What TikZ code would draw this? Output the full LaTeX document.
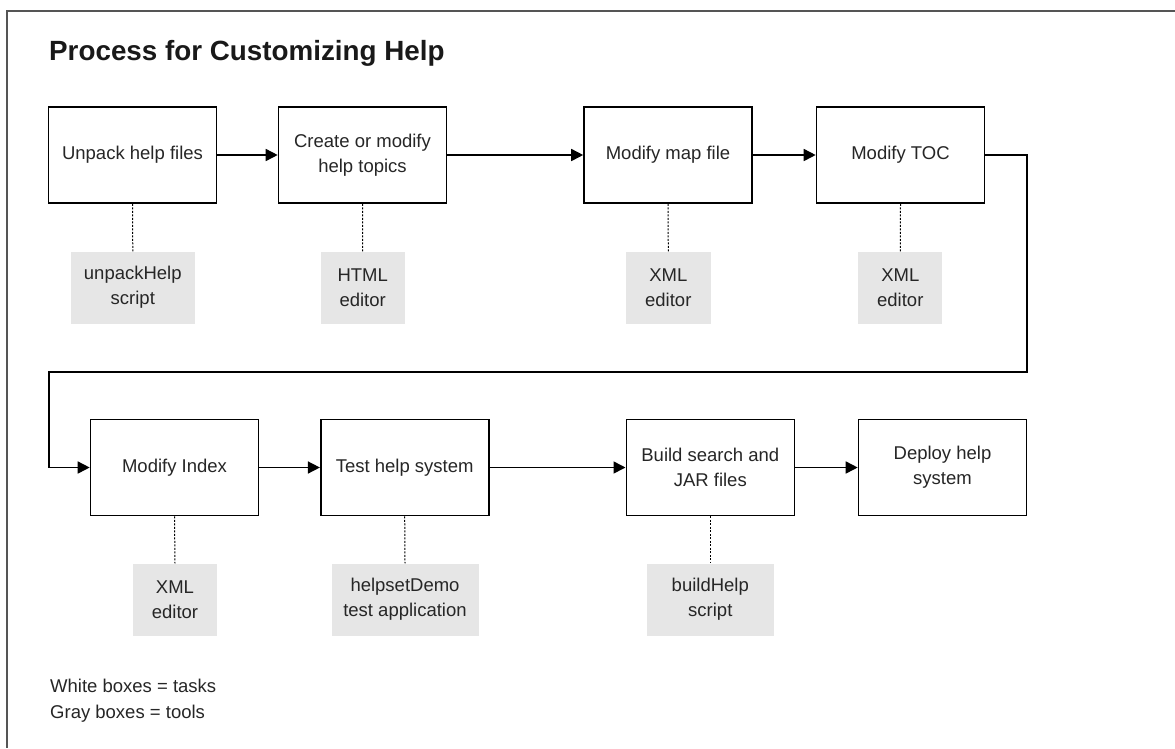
\documentclass[tikz,border=0pt]{standalone}
\usepackage{fontspec}
\setmainfont{Liberation Sans}
\usetikzlibrary{arrows.meta}
\definecolor{inkc}{HTML}{262626}
\definecolor{toolgray}{HTML}{E6E6E6}
\definecolor{framec}{HTML}{555555}
\tikzset{
  task/.style={draw=black, line width=1.6pt, fill=white, minimum width=168pt,
    minimum height=96pt, align=center, text=inkc, inner sep=0pt,
    font=\fontsize{18.5}{25}\selectfont},
  tool/.style={fill=toolgray, minimum height=72pt, align=center, text=inkc,
    inner sep=0pt, font=\fontsize{18.5}{25}\selectfont},
  flow/.style={draw=black, line width=1.6pt, -{Triangle[length=12pt,width=12pt]}},
  usedby/.style={draw=black, line width=1pt, dash pattern=on 2pt off 1.5pt},
  legend/.style={anchor=base west, inner sep=0pt, text=inkc,
    font=\fontsize{18.5}{25}\selectfont}
}
\begin{document}
\begin{tikzpicture}[x=1pt, y=-1pt]
  \useasboundingbox (0,0) rectangle (1175,748);

  % open frame: top and left edges
  \draw[framec, line width=2pt] (1175,11) -- (7,11) -- (7,748);

  % title
  \node[anchor=base west, inner sep=0pt, text=black!90,
        font=\fontsize{27.8}{32}\selectfont\bfseries] (title) at (49,60)
        {Process for Customizing Help};

  % tasks, first row
  \node[task] (t1) at (132.5,155) {Unpack help files};
  \node[task] (t2) at (362.5,155) {Create or modify\\help topics};
  \node[task] (t3) at (668,155)   {Modify map file};
  \node[task] (t4) at (900.5,155) {Modify TOC};

  % tasks, second row
  \node[task] (t5) at (174.5,467.5) {Modify Index};
  \node[task] (t6) at (404.7,467.5) {Test help system};
  \node[task] (t7) at (710.3,467.5) {Build search and\\JAR files};
  \node[task] (t8) at (942.5,467.5) {Deploy help\\system};

  % tools, first row
  \node[tool, minimum width=124pt] (g1) at (132.8,287.5) {unpackHelp\\script};
  \node[tool, minimum width=84pt]  (g2) at (362.7,287.5) {HTML\\editor};
  \node[tool, minimum width=85pt]  (g3) at (668.3,287.5) {XML\\editor};
  \node[tool, minimum width=84pt]  (g4) at (900.3,287.5) {XML\\editor};

  % tools, second row
  \node[tool, minimum width=84pt]  (g5) at (175,599.5)   {XML\\editor};
  \node[tool, minimum width=147pt] (g6) at (405,599.5)   {helpsetDemo\\test application};
  \node[tool, minimum width=127pt] (g7) at (710.3,599.5) {buildHelp\\script};

  % task-to-tool links
  \foreach \a/\b in {t1/g1, t2/g2, t3/g3, t4/g4, t5/g5, t6/g6, t7/g7}
    \draw[usedby] (\a.south) -- (\b.north);

  % process flow
  \draw[flow] (t1) -- (t2);
  \draw[flow] (t2) -- (t3);
  \draw[flow] (t3) -- (t4);
  \coordinate (wrapR) at (1027,372);
  \coordinate (wrapL) at (49,372);
  \draw[flow] (t4.east) -| (wrapR) -- (wrapL) |- (t5.west);
  \draw[flow] (t5) -- (t6);
  \draw[flow] (t6) -- (t7);
  \draw[flow] (t7) -- (t8);

  % legend
  \node[legend] (leg1) at (50,692) {White boxes = tasks};
  \node[legend] (leg2) at (50,718) {Gray boxes = tools};
\end{tikzpicture}
\end{document}
